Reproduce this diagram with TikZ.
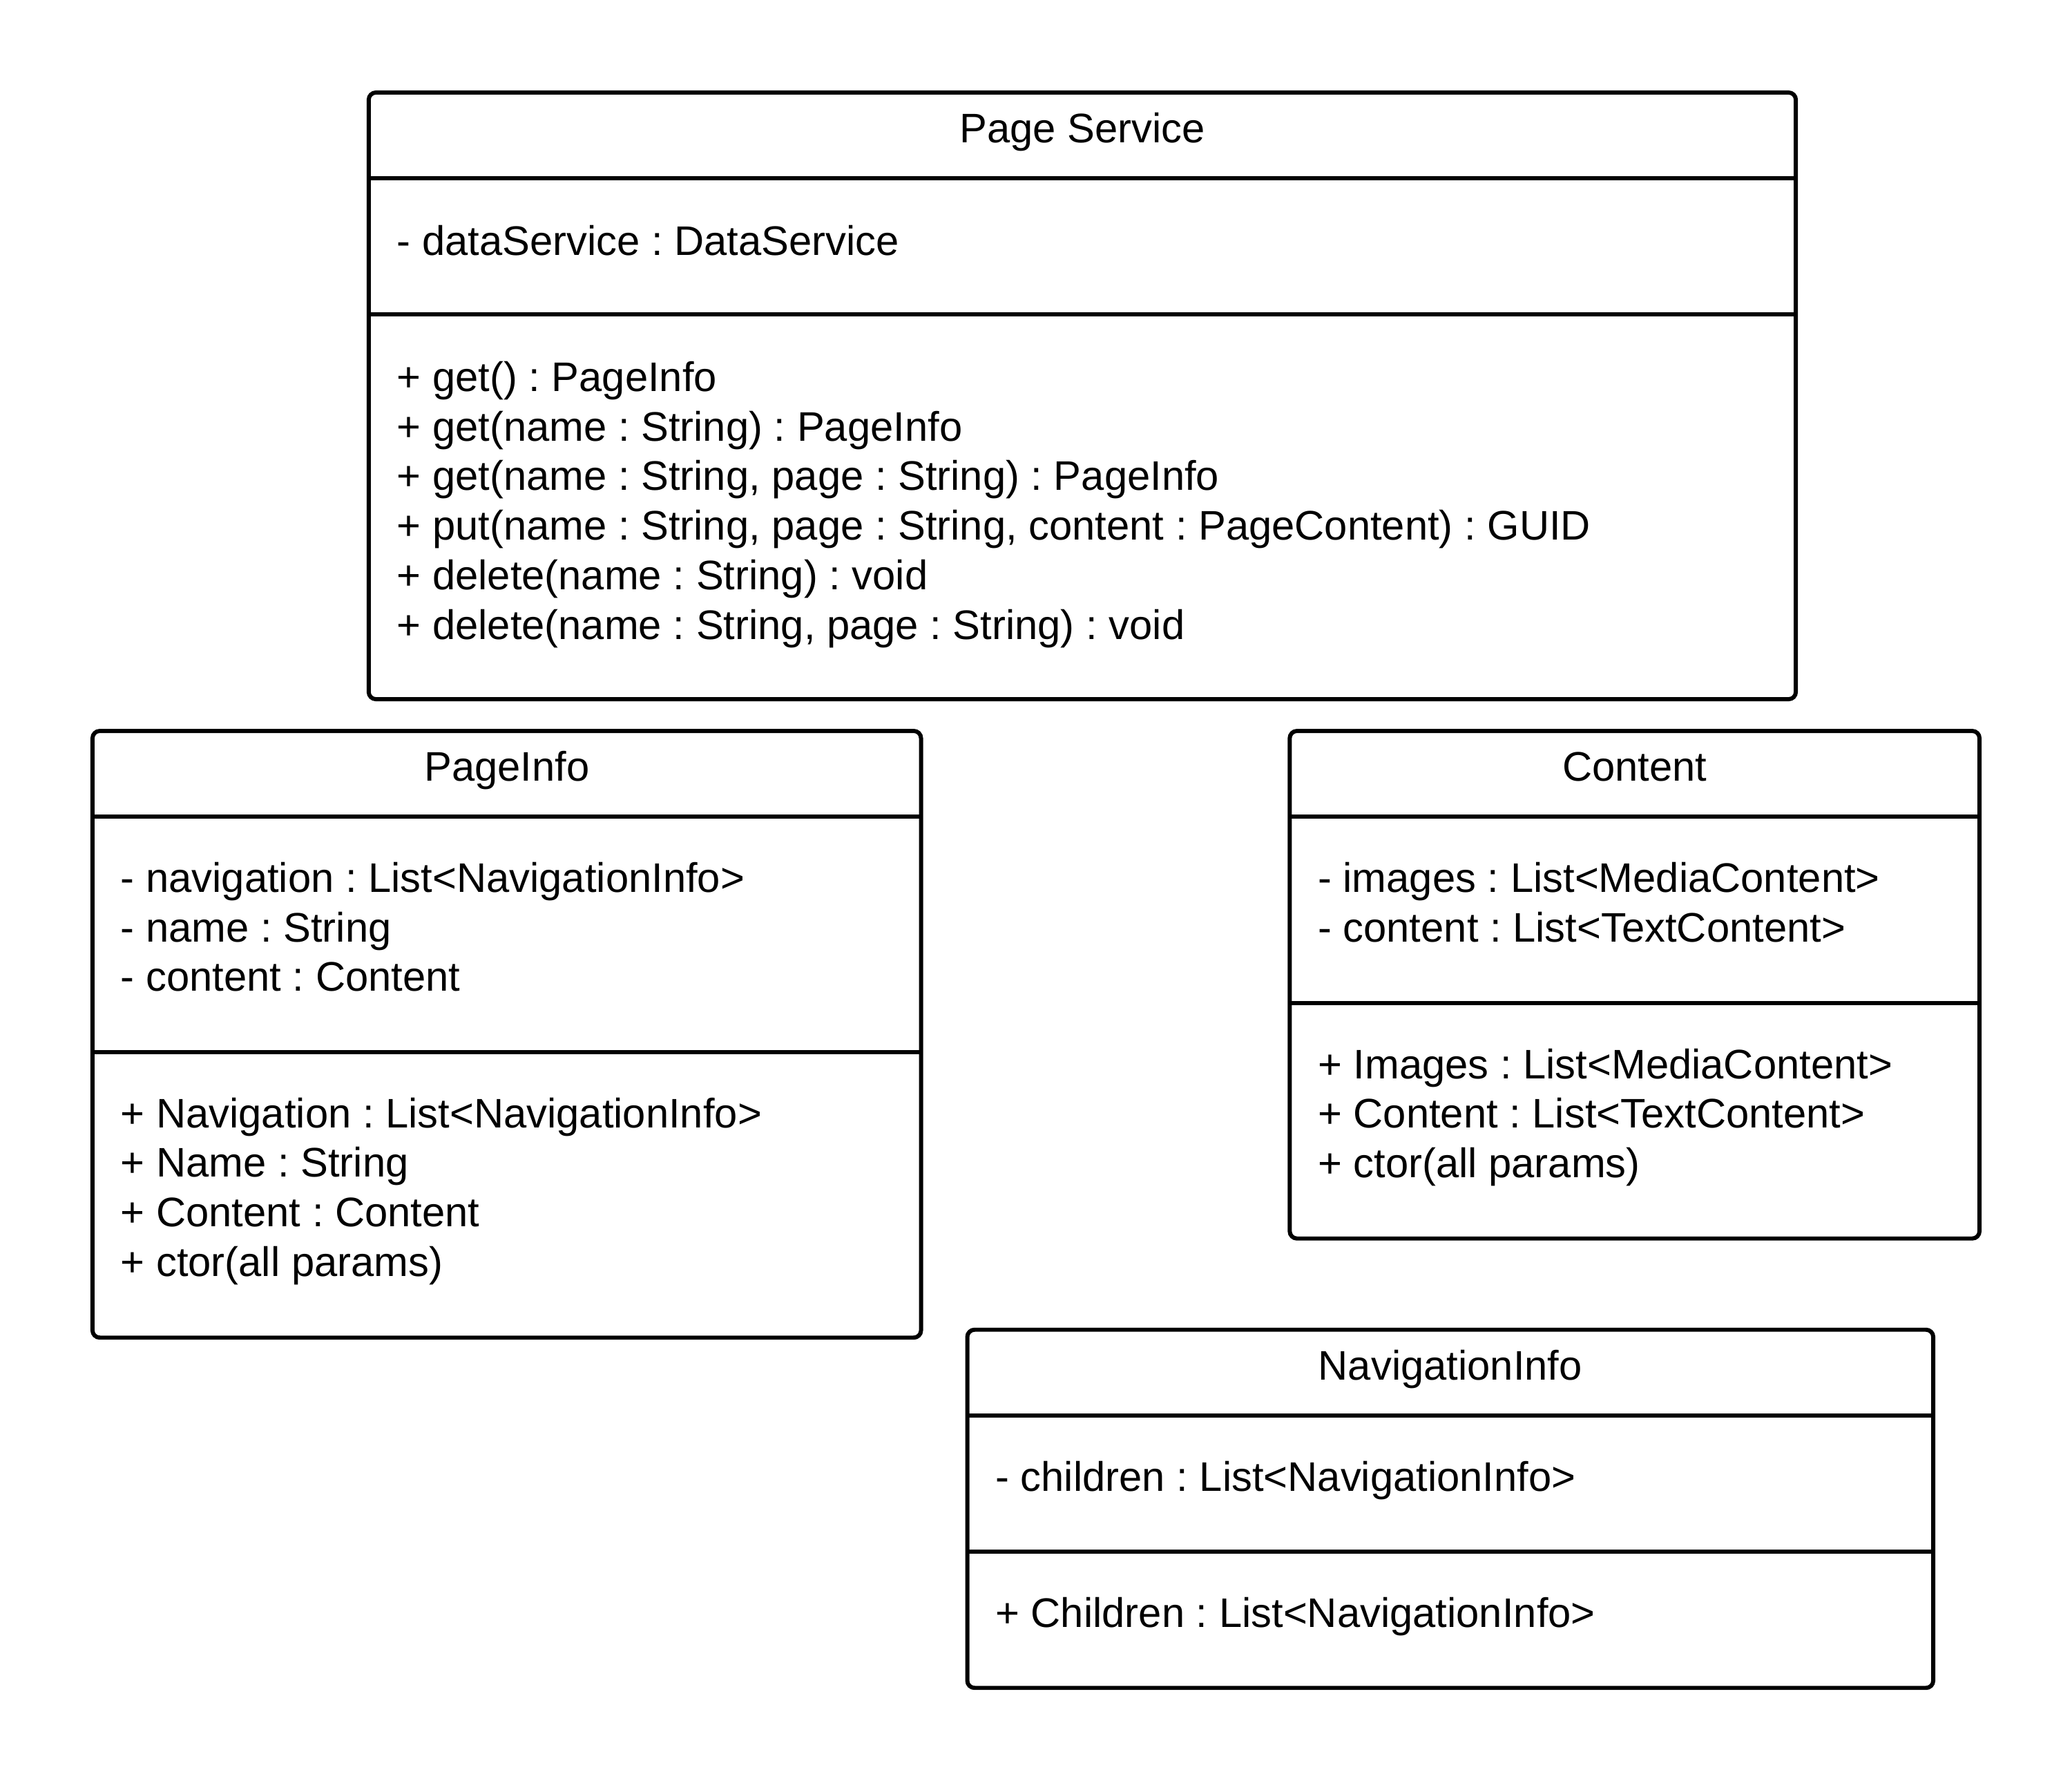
\documentclass[tikz,border=0pt]{standalone}
\usepackage{fontspec}
\setmainfont{Liberation Sans}
\usetikzlibrary{positioning}
\frenchspacing
\tikzset{
  umlbox/.style  = {draw, line width=1.7pt, rounded corners=3pt},
  umlsep/.style  = {draw, line width=1.7pt},
  title/.style   = {anchor=base, inner sep=0pt, font=\fontsize{17}{21}\selectfont},
  member/.style  = {anchor=base west, inner sep=0pt, font=\fontsize{17}{21}\selectfont}
}

\begin{document}
\begin{tikzpicture}[x=0.019133cm, y=-0.019133cm]
  \useasboundingbox (0,0) rectangle (1568,1347);

  % Page Service
  \draw[umlbox] (279,70) rectangle (1359,529);
  \draw[umlsep] (279,135) -- (1359,135);
  \draw[umlsep] (279,238) -- (1359,238);
  \node[title] (svcTitle) at (819,108) {Page Service};
  \node[member] (svcAttr) at (300,193) {- dataService : DataService};
  \foreach \txt [count=\i] in {
      {+ get() : PageInfo},
      {+ get(name : String) : PageInfo},
      {+ get(name : String, page : String) : PageInfo},
      {+ put(name : String, page : String, content : PageContent) : GUID},
      {+ delete(name : String) : void},
      {+ delete(name : String, page : String) : void}}
    \node[member] (svcOp\i) at (300,{258.5+37.5*\i}) {\txt};

  % PageInfo
  \draw[umlbox] (70,553) rectangle (697,1012);
  \draw[umlsep] (70,618) -- (697,618);
  \draw[umlsep] (70,796) -- (697,796);
  \node[title] (infoTitle) at (383.5,591) {PageInfo};
  \foreach \txt [count=\i] in {
      {- navigation : List<NavigationInfo>},
      {- name : String},
      {- content : Content}}
    \node[member] (infoAttr\i) at (91,{637.5+37.5*\i}) {\txt};
  \foreach \txt [count=\i] in {
      {+ Navigation : List<NavigationInfo>},
      {+ Name : String},
      {+ Content : Content},
      {+ ctor(all params)}}
    \node[member] (infoOp\i) at (91,{815.5+37.5*\i}) {\txt};

  % Content
  \draw[umlbox] (976,553) rectangle (1498,937);
  \draw[umlsep] (976,618) -- (1498,618);
  \draw[umlsep] (976,759) -- (1498,759);
  \node[title] (contTitle) at (1237,591) {Content};
  \foreach \txt [count=\i] in {
      {- images : List<MediaContent>},
      {- content : List<TextContent>}}
    \node[member] (contAttr\i) at (997,{637.5+37.5*\i}) {\txt};
  \foreach \txt [count=\i] in {
      {+ Images : List<MediaContent>},
      {+ Content : List<TextContent>},
      {+ ctor(all params)}}
    \node[member] (contOp\i) at (997,{778.5+37.5*\i}) {\txt};

  % NavigationInfo
  \draw[umlbox] (732,1006) rectangle (1463,1277);
  \draw[umlsep] (732,1071) -- (1463,1071);
  \draw[umlsep] (732,1174) -- (1463,1174);
  \node[title] (navTitle) at (1097.5,1044) {NavigationInfo};
  \node[member] (navAttr) at (753,1128) {- children : List<NavigationInfo>};
  \node[member] (navOp) at (753,1231) {+ Children : List<NavigationInfo>};
\end{tikzpicture}
\end{document}
